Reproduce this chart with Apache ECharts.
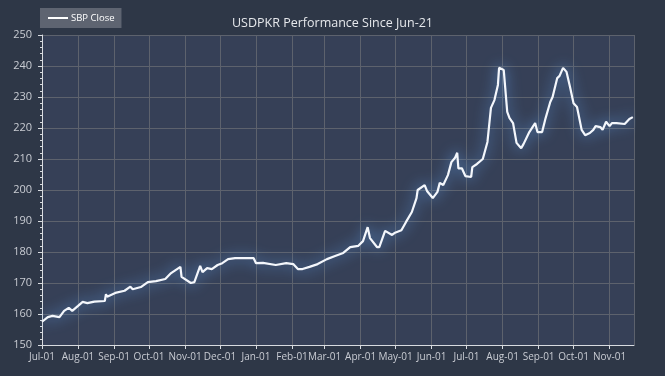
<!DOCTYPE html>
<html>
<head>
<meta charset="utf-8">
<script src="https://cdn.jsdelivr.net/npm/echarts@6/dist/echarts.min.js"></script>
<style>
html, body { margin: 0; padding: 0; background: #2e3747; }
#main { width: 665px; height: 376px; }
</style>
</head>
<body>
<div id="main"></div>
<script>
// SBP close
var dates = ['2021-07-01','2021-07-06','2021-07-10','2021-07-16','2021-07-20','2021-07-24','2021-07-27',
  '2021-08-01','2021-08-05','2021-08-09','2021-08-15','2021-08-24','2021-08-25','2021-08-26',
  '2021-09-02','2021-09-10','2021-09-15','2021-09-17','2021-09-24','2021-09-30',
  '2021-10-07','2021-10-15','2021-10-20','2021-10-28','2021-10-29',
  '2021-11-06','2021-11-09','2021-11-14','2021-11-16','2021-11-20','2021-11-24','2021-11-29',
  '2021-12-03','2021-12-08','2021-12-14','2021-12-30',
  '2022-01-01','2022-01-07','2022-01-18','2022-01-27',
  '2022-02-02','2022-02-06','2022-02-10','2022-02-16','2022-02-23',
  '2022-03-03','2022-03-10','2022-03-17','2022-03-23','2022-03-30',
  '2022-04-03','2022-04-07','2022-04-09','2022-04-15','2022-04-17','2022-04-22','2022-04-28','2022-04-30',
  '2022-05-06','2022-05-10','2022-05-15','2022-05-19','2022-05-20','2022-05-26','2022-05-28',
  '2022-06-02','2022-06-06','2022-06-08','2022-06-11','2022-06-15','2022-06-18','2022-06-21','2022-06-23','2022-06-24','2022-06-27','2022-06-30',
  '2022-07-05','2022-07-06','2022-07-10','2022-07-15','2022-07-19','2022-07-22','2022-07-25','2022-07-28','2022-07-29',
  '2022-08-02','2022-08-05','2022-08-07','2022-08-10','2022-08-13','2022-08-17','2022-08-19','2022-08-24','2022-08-29','2022-08-31',
  '2022-09-04','2022-09-07','2022-09-11','2022-09-13','2022-09-17','2022-09-19','2022-09-22','2022-09-25','2022-09-28',
  '2022-10-01','2022-10-04','2022-10-08','2022-10-11','2022-10-15','2022-10-18','2022-10-20','2022-10-24','2022-10-26','2022-10-29',
  '2022-11-01','2022-11-03','2022-11-07','2022-11-14','2022-11-18','2022-11-21'];
var closes = [157.5,159.0,159.4,159.0,161.0,162.0,161.0,
  162.6,163.9,163.5,164.0,164.2,166.4,165.6,
  166.8,167.5,168.8,168.0,168.7,170.3,
  170.6,171.3,173.2,175.2,172.0,
  170.0,170.3,175.5,173.5,174.8,174.5,175.8,
  176.4,177.7,178.0,178.0,
  176.4,176.5,175.8,176.4,
  176.1,174.5,174.5,175.2,176.1,
  177.7,178.7,179.7,181.6,182.0,
  183.5,188.0,184.5,181.6,181.6,186.8,185.5,186.1,
  187.0,189.7,192.9,197.4,200.0,201.6,199.7,
  197.4,199.4,202.3,201.6,204.8,209.0,210.3,212.0,207.0,207.0,204.5,
  204.2,207.4,208.4,210.0,215.5,226.5,229.0,233.9,239.4,
  238.7,225.2,223.2,221.6,215.2,213.5,214.8,218.7,221.6,218.7,
  218.7,223.2,228.4,230.0,236.1,236.8,239.4,238.1,233.2,
  228.0,226.8,219.4,217.7,218.4,219.4,220.6,220.3,219.4,222.0,
  220.6,221.6,221.6,221.3,222.9,223.5];
var months = ['Jan','Feb','Mar','Apr','May','Jun','Jul','Aug','Sep','Oct','Nov','Dec'];

var seriesData = [];
for (var i = 0; i < dates.length; i++) {
  seriesData.push([dates[i], closes[i]]);
}

var myChart = echarts.init(document.getElementById('main'));
var DAY = 24 * 3600 * 1000;
option = {
  backgroundColor: '#2e3747',
  animation: false,
  title: {
    text: 'USDPKR Performance Since Jun-21',
    left: 'center',
    top: 12,
    textStyle: { color: '#e6e8ec', fontSize: 12.5, fontWeight: 'normal', fontFamily: 'Open Sans' }
  },
  legend: {
    left: 40,
    top: 8,
    padding: [5, 7, 5, 8],
    backgroundColor: '#5e6471',
    icon: 'rect',
    itemWidth: 20,
    itemHeight: 2,
    itemGap: 4,
    textStyle: { color: '#ffffff', fontSize: 9.5, fontFamily: 'Open Sans', padding: [0, 0, 0, -2] },
    data: ['SBP Close']
  },
  grid: {
    left: 42, right: 31, top: 35, bottom: 31,
    show: true,
    backgroundColor: '#364057',
    borderWidth: 0
  },
  xAxis: {
    type: 'time',
    min: '2021-07-01',
    max: '2022-11-22',
    splitNumber: 17,
    minInterval: 28 * DAY,
    maxInterval: 31 * DAY,
    axisLine: { lineStyle: { color: '#d8dbe0', width: 1 } },
    axisTick: { show: true, length: 4, lineStyle: { color: '#d8dbe0' } },
    axisLabel: {
      color: '#c9ccd3',
      fontSize: 10,
      fontFamily: 'Open Sans',
      margin: 7,
      hideOverlap: false,
      showMaxLabel: false,
      formatter: function (val) {
        var d = new Date(val);
        var dd = d.getDate();
        return months[d.getMonth()] + '-' + (dd < 10 ? '0' + dd : dd);
      }
    },
    splitLine: { show: true, lineStyle: { color: '#5d626d', width: 1 } }
  },
  yAxis: {
    type: 'value',
    min: 150,
    max: 250,
    interval: 10,
    axisLine: { show: true, lineStyle: { color: '#d8dbe0', width: 1 } },
    axisTick: { show: true, length: 4, lineStyle: { color: '#d8dbe0' } },
    minorTick: { show: true, splitNumber: 5, length: 2, lineStyle: { color: '#d8dbe0' } },
    axisLabel: { color: '#c9ccd3', fontSize: 11, fontFamily: 'Open Sans', margin: 10 },
    splitLine: { show: true, lineStyle: { color: '#5d626d', width: 1 } }
  },
  series: [
    {
      name: 'SBP Close',
      type: 'line',
      data: seriesData,
      showSymbol: false,
      symbol: 'none',
      itemStyle: { color: '#ffffff' },
      lineStyle: {
        color: '#f4f7fc',
        width: 2.2,
        shadowColor: 'rgba(100,165,240,1)',
        shadowBlur: 14
      }
    }
  ]
};

myChart.setOption(option);
</script>
</body>
</html>
